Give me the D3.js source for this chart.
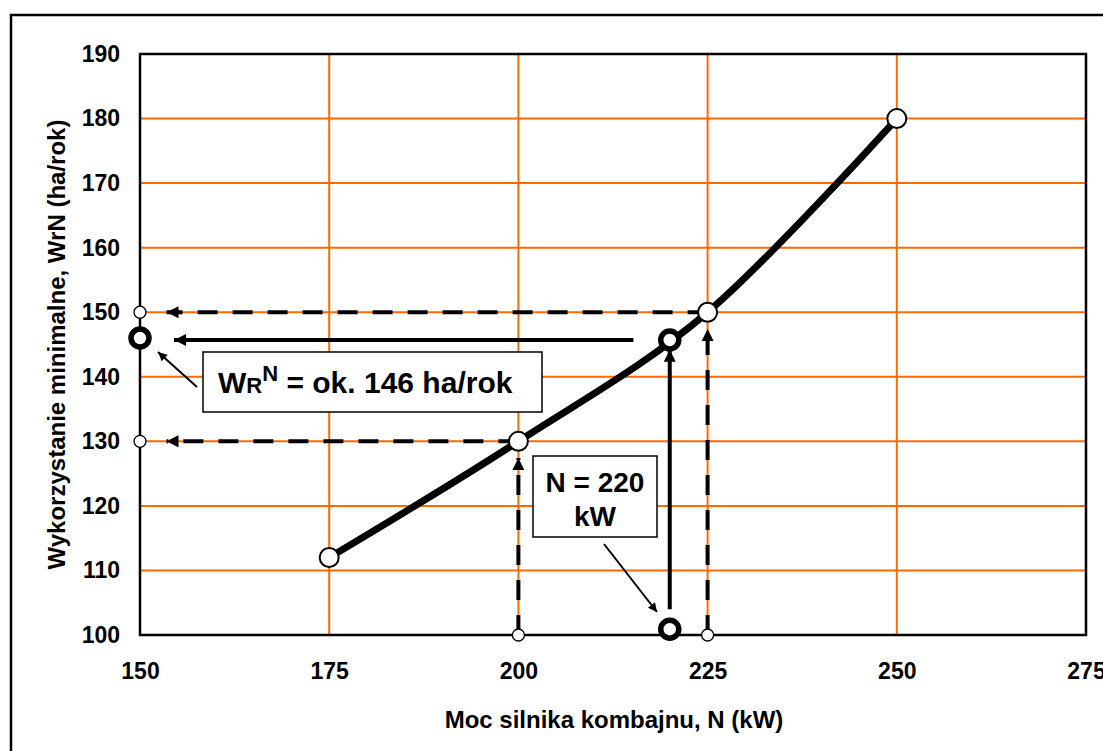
<!DOCTYPE html>
<html>
<head>
<meta charset="utf-8">
<script src="https://cdn.jsdelivr.net/npm/d3@7"></script>
<style>
  html, body { margin: 0; padding: 0; background: #fff; }
  svg { display: block; }
  text { font-family: "Liberation Sans", Arial, sans-serif; font-weight: bold; fill: #000; }
</style>
</head>
<body>
<svg id="chart" width="1103" height="751"></svg>
<script>
// ---- data ----
const curveN = [175, 200, 225, 250];
const curveW = [112, 130, 150, 180];
const xTicks = [150, 175, 200, 225, 250, 275];
const yTicks = [100, 110, 120, 130, 140, 150, 160, 170, 180, 190];
const readN = 220;          // chosen engine power
const readW = 145.7;        // read-off utilisation
const resultW = 146;        // result marked on the axis
const dashedLevels = [130, 150];     // horizontal dashed guide levels
const dashedSources = [200, 225];    // x positions of dashed verticals
const xTitle = "Moc silnika kombajnu, N (kW)";
const yTitle = "Wykorzystanie minimalne, WrN (ha/rok)";

// ---- setup ----
const svg = d3.select("#chart");
const L = 140, R = 1086, T = 54, B = 635;
const x = d3.scaleLinear().domain([150, 275]).range([L, R]);
const y = d3.scaleLinear().domain([100, 190]).range([B, T]);

const orange = "#FF6A00";
const FONT = "Liberation Sans, Arial, sans-serif";

// outer frame
svg.append("rect").attr("x", 11).attr("y", 15).attr("width", 1120).attr("height", 760)
  .attr("fill", "none").attr("stroke", "#000").attr("stroke-width", 2.5);

const defs = svg.append("defs");
defs.append("marker").attr("id", "ah").attr("viewBox", "0 0 10 10")
  .attr("refX", 10).attr("refY", 5).attr("markerWidth", 15).attr("markerHeight", 12)
  .attr("markerUnits", "userSpaceOnUse").attr("orient", "auto")
  .append("path").attr("d", "M0,0 L10,5 L0,10 Z").attr("fill", "#000");
defs.append("marker").attr("id", "ahs").attr("viewBox", "0 0 10 10")
  .attr("refX", 10).attr("refY", 5).attr("markerWidth", 12).attr("markerHeight", 9)
  .attr("markerUnits", "userSpaceOnUse").attr("orient", "auto")
  .append("path").attr("d", "M0,0 L10,5 L0,10 Z").attr("fill", "#000");

// grid
const g = svg.append("g");
g.selectAll(".gx").data(xTicks.slice(1, -1)).join("line")
  .attr("x1", d => x(d)).attr("x2", d => x(d)).attr("y1", T).attr("y2", B)
  .attr("stroke", orange).attr("stroke-width", 2);
g.selectAll(".gy").data(yTicks.slice(1, -1)).join("line")
  .attr("x1", L).attr("x2", R).attr("y1", d => y(d)).attr("y2", d => y(d))
  .attr("stroke", orange).attr("stroke-width", 2);

// plot frame
svg.append("rect").attr("x", L).attr("y", T).attr("width", R - L).attr("height", B - T)
  .attr("fill", "none").attr("stroke", "#000").attr("stroke-width", 2.5);

// axes labels
const xAxis = d3.axisBottom(x).tickValues(xTicks).tickSize(0).tickPadding(28).tickFormat(d3.format("d"));
const ax = svg.append("g").attr("transform", `translate(0,${B})`).call(xAxis);
ax.select(".domain").remove();
ax.attr("font-size", null).attr("font-family", null);
ax.selectAll("text").style("font-size", "23px").style("font-family", FONT).style("font-weight", "bold");

const yAxis = d3.axisLeft(y).tickValues(yTicks).tickSize(0).tickPadding(20).tickFormat(d3.format("d"));
const ay = svg.append("g").attr("transform", `translate(${L},0)`).call(yAxis);
ay.select(".domain").remove();
ay.attr("font-size", null).attr("font-family", null);
ay.selectAll("text").style("font-size", "23px").style("font-family", FONT).style("font-weight", "bold");

svg.append("text").attr("x", 614).attr("y", 728).attr("text-anchor", "middle")
  .style("font-size", "24px").text(xTitle);
svg.append("text").attr("transform", `translate(65,${(T + B) / 2}) rotate(-90)`)
  .attr("text-anchor", "middle").style("font-size", "24px").text(yTitle);

// dashed guides
const dash = "20 15";
dashedLevels.forEach((lv, i) => {
  svg.append("line").attr("x1", x(dashedSources[i])).attr("y1", y(lv))
    .attr("x2", x(153.5)).attr("y2", y(lv))
    .attr("stroke", "#000").attr("stroke-width", 4).attr("stroke-dasharray", dash)
    .attr("marker-end", "url(#ah)");
  svg.append("line").attr("x1", x(dashedSources[i])).attr("y1", y(100))
    .attr("x2", x(dashedSources[i])).attr("y2", y(lv - 2.6))
    .attr("stroke", "#000").attr("stroke-width", 4).attr("stroke-dasharray", dash)
    .attr("marker-end", "url(#ah)");
});

// solid read-off arrows
svg.append("line").attr("x1", x(readN)).attr("y1", y(104)).attr("x2", x(readN)).attr("y2", y(readW - 1.5))
  .attr("stroke", "#000").attr("stroke-width", 4).attr("marker-end", "url(#ah)");
svg.append("line").attr("x1", x(215.2)).attr("y1", y(resultW - 0.3)).attr("x2", x(154.5)).attr("y2", y(resultW - 0.3))
  .attr("stroke", "#000").attr("stroke-width", 4).attr("marker-end", "url(#ah)");

// main curve
const pts = curveN.map((n, i) => [n, curveW[i]]);
const line = d3.line().x(d => x(d[0])).y(d => y(d[1])).curve(d3.curveCatmullRom.alpha(0));
svg.append("path").attr("d", line(pts)).attr("fill", "none").attr("stroke", "#000").attr("stroke-width", 7);

svg.selectAll(".pt").data(pts).join("circle")
  .attr("cx", d => x(d[0])).attr("cy", d => y(d[1])).attr("r", 9.5)
  .attr("fill", "#fff").attr("stroke", "#000").attr("stroke-width", 2);

// small axis markers
const smalls = dashedLevels.map(v => [150, v]).concat(dashedSources.map(v => [v, 100]));
svg.selectAll(".sm").data(smalls).join("circle")
  .attr("cx", d => x(d[0])).attr("cy", d => y(d[1])).attr("r", 6)
  .attr("fill", "#fff").attr("stroke", "#000").attr("stroke-width", 1.3);

// thick rings
const rings = [[readN, readW], [150, resultW], [readN, 100.9]];
svg.selectAll(".rg").data(rings).join("circle")
  .attr("cx", d => x(d[0])).attr("cy", d => y(d[1])).attr("r", 9)
  .attr("fill", "#fff").attr("stroke", "#000").attr("stroke-width", 5.5);

// callout 1
svg.append("rect").attr("x", 203).attr("y", 352).attr("width", 339).attr("height", 60)
  .attr("fill", "#fff").attr("stroke", "#000").attr("stroke-width", 1.5);
const t1 = svg.append("text").attr("x", 218).attr("y", 393).style("font-size", "30px");
t1.append("tspan").text("W");
t1.append("tspan").style("font-size", "22px").text("R");
t1.append("tspan").style("font-size", "22px").attr("dy", -12).text("N");
t1.append("tspan").attr("dy", 12).text(" = ok. 146 ha/rok");
svg.append("line").attr("x1", 197).attr("y1", 387).attr("x2", 158).attr("y2", 352)
  .attr("stroke", "#000").attr("stroke-width", 2).attr("marker-end", "url(#ahs)");

// callout 2
svg.append("rect").attr("x", 533).attr("y", 456).attr("width", 124).attr("height", 81)
  .attr("fill", "#fff").attr("stroke", "#000").attr("stroke-width", 1.5);
svg.append("text").attr("x", 595).attr("y", 492).attr("text-anchor", "middle").style("font-size", "28px").text("N = 220");
svg.append("text").attr("x", 595).attr("y", 526).attr("text-anchor", "middle").style("font-size", "28px").text("kW");
svg.append("line").attr("x1", 604).attr("y1", 544).attr("x2", 657).attr("y2", 612)
  .attr("stroke", "#000").attr("stroke-width", 2).attr("marker-end", "url(#ahs)");
</script>
</body>
</html>
